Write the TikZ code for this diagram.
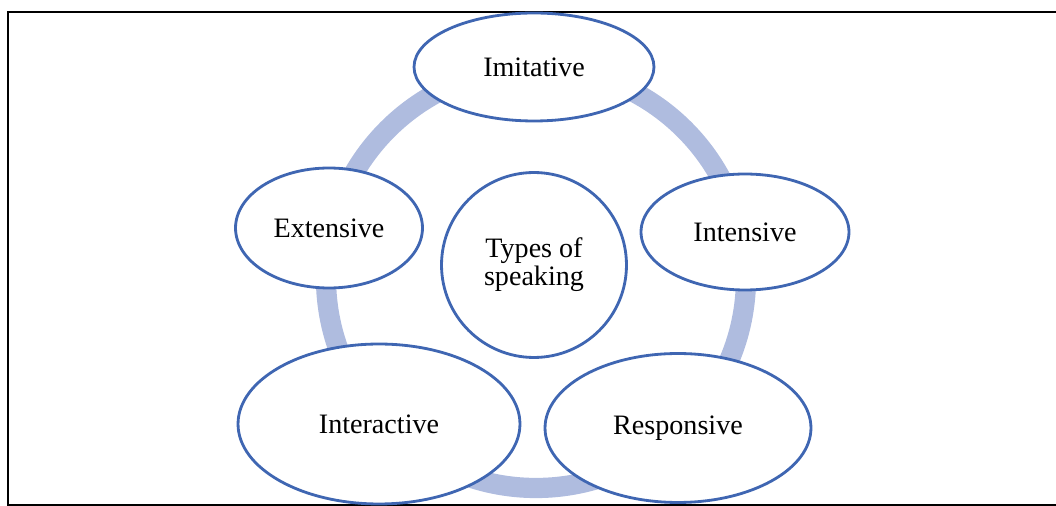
\documentclass[tikz,border=0pt]{standalone}
\usepackage{fontspec}
\setmainfont{Liberation Serif}
\usepackage{tikz}
\usetikzlibrary{shapes.geometric}
\usepackage{xcolor}

\definecolor{ringblue}{HTML}{AFBCDF}
\definecolor{edgeblue}{HTML}{3F66B2}

\tikzset{
  kind/.style={ellipse, draw=edgeblue, line width=1.6pt, fill=white,
    inner sep=0pt, font=\fontsize{16}{16}\selectfont},
}

\begin{document}
\begin{tikzpicture}[x=0.02cm, y=-0.02cm]
  \useasboundingbox (0,0) rectangle (1056,506);
  % frame
  \draw[line width=1.2pt] (1070,12) -- (8,12) -- (8,505) -- (1070,505);
  % the cycle ring behind the ellipses
  \draw[ringblue, line width=11.5pt] (536,278) circle (210);
  % centre
  \node[kind, circle, minimum size=3.7cm, align=center] (types) at (534,265)
    {Types of\\speaking};
  % the five kinds around it
  \node[kind, minimum width=4.8cm, minimum height=2.16cm] (imitative) at (534,67) {Imitative};
  \node[kind, minimum width=4.16cm, minimum height=2.32cm] (intensive) at (745,232) {Intensive};
  \node[kind, minimum width=5.32cm, minimum height=2.98cm] (responsive) at (678,428) {Responsive};
  \node[kind, minimum width=5.64cm, minimum height=3.2cm] (interactive) at (379,424) {Interactive};
  \node[kind, minimum width=3.74cm, minimum height=2.4cm] (extensive) at (329,228) {Extensive};
\end{tikzpicture}
\end{document}
